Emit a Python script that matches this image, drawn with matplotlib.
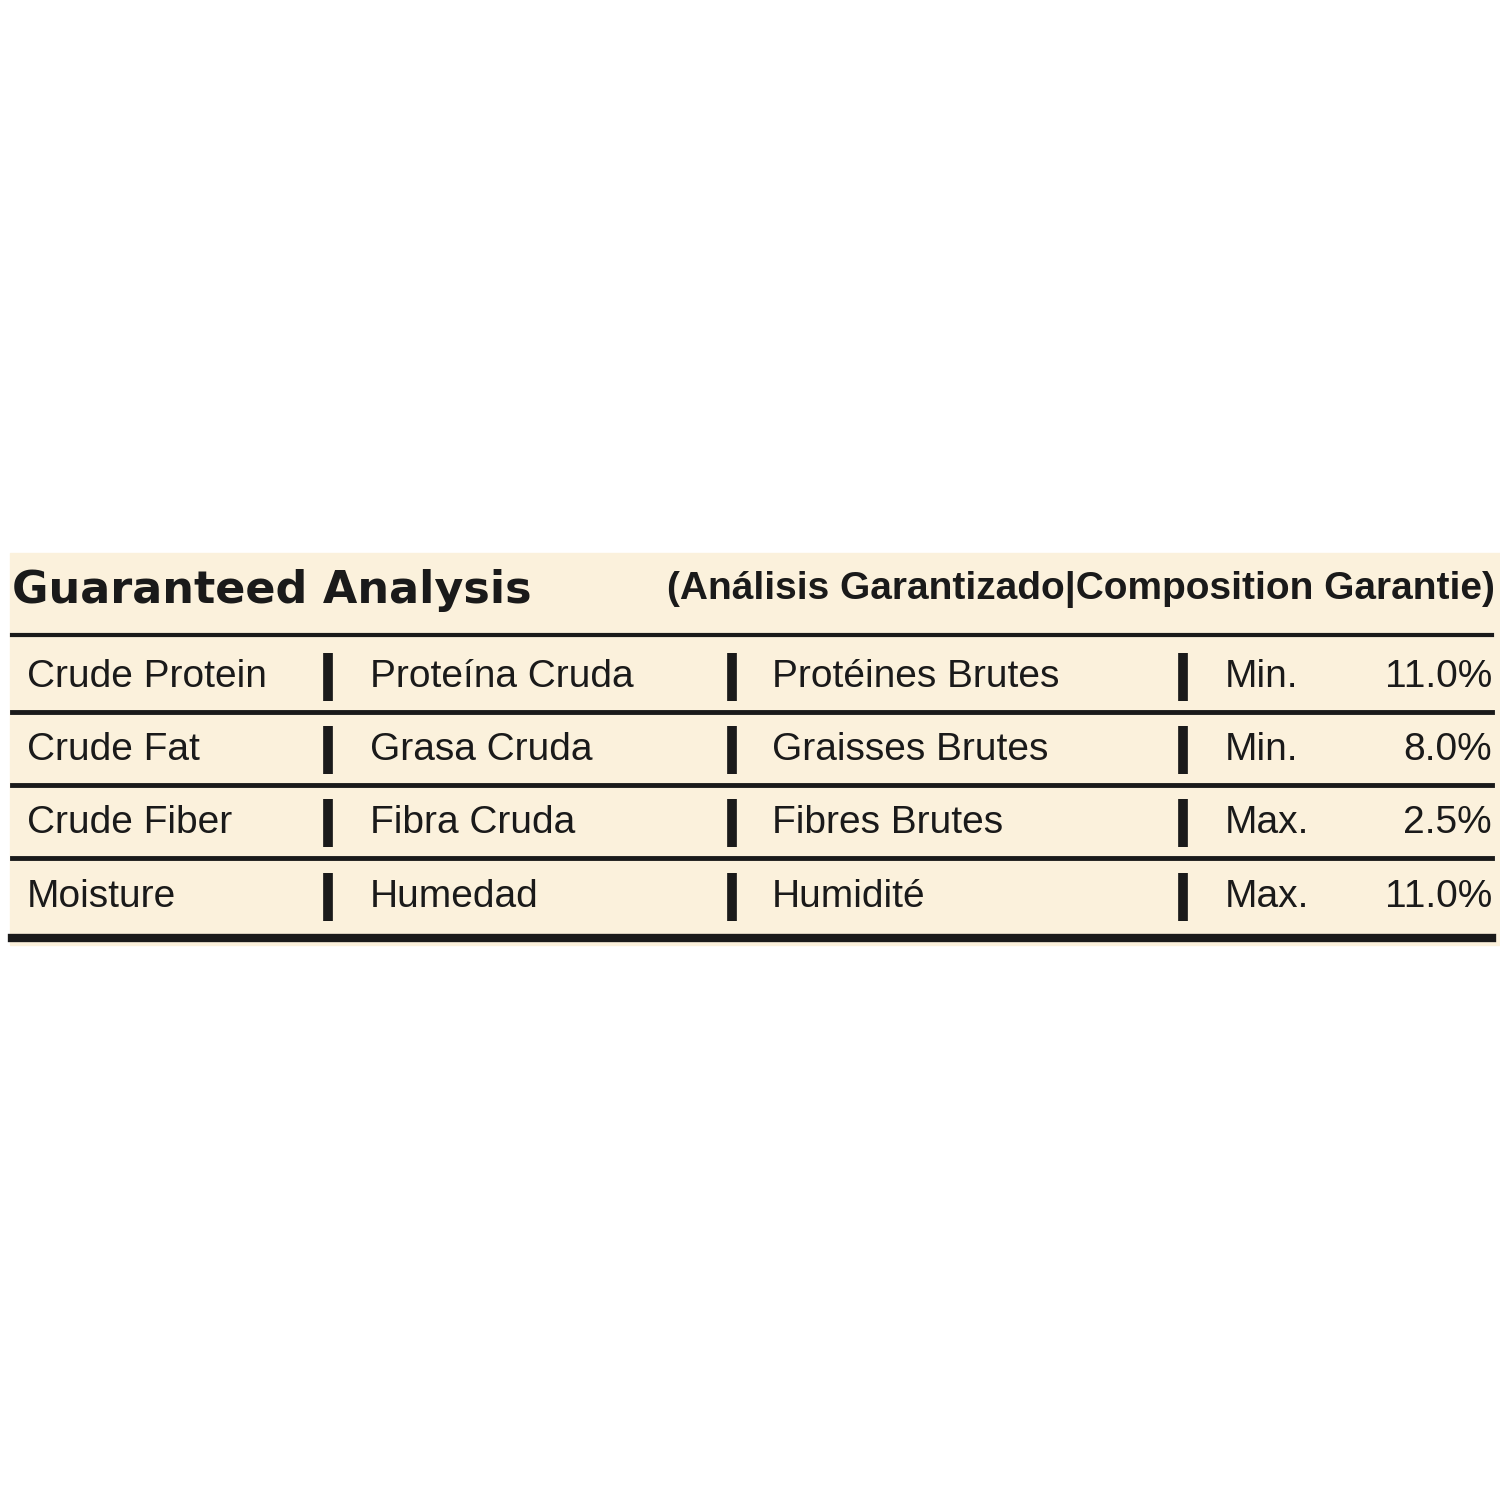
import matplotlib
matplotlib.use("Agg")
import matplotlib.pyplot as plt
from matplotlib.patches import Rectangle

title_main = "Guaranteed Analysis"
title_sub = "(Análisis Garantizado|Composition Garantie)"
english = ["Crude Protein", "Crude Fat", "Crude Fiber", "Moisture"]
spanish = ["Proteína Cruda", "Grasa Cruda", "Fibra Cruda", "Humedad"]
french = ["Protéines Brutes", "Graisses Brutes", "Fibres Brutes", "Humidité"]
qualifier = ["Min.", "Min.", "Max.", "Max."]
values = ["11.0%", "8.0%", "2.5%", "11.0%"]

fam = ['Liberation Sans', 'DejaVu Sans']
fig = plt.figure(figsize=(15, 15), dpi=100)
ax = fig.add_axes([0, 0, 1, 1])
ax.set_xlim(0, 1500); ax.set_ylim(1500, 0); ax.axis('off')
ink = '#1a1a1a'
ax.add_patch(Rectangle((10, 553), 1490, 392, color='#fbf1dc', zorder=0))
ax.text(12, 590, title_main, fontsize=32, fontweight='bold', family=['DejaVu Sans'], va='center', color=ink)
ax.text(1495, 590, title_sub, fontsize=28, fontweight='bold', family=fam, va='center', ha='right', color=ink)
ax.plot([12, 1492], [635, 635], color=ink, lw=3)
rows_y = [677, 750, 823, 897]
lines_y = [712, 785, 858, 938]
fs = 28
for i, y in enumerate(rows_y):
    ax.text(27, y, english[i], fontsize=fs, family=fam, va='center', color=ink)
    ax.text(370, y, spanish[i], fontsize=fs, family=fam, va='center', color=ink)
    ax.text(772, y, french[i], fontsize=fs, family=fam, va='center', color=ink)
    ax.text(1225, y, qualifier[i], fontsize=fs, family=fam, va='center', color=ink)
    ax.text(1492, y, values[i], fontsize=fs, family=fam, va='center', ha='right', color=ink)
    for x in [328, 732, 1183]:
        ax.plot([x, x], [y - 24, y + 24], color=ink, lw=7, solid_capstyle='butt')
    ax.plot([12, 1492], [lines_y[i], lines_y[i]], color=ink, lw=3.5 if i < 3 else 6)
fig.savefig("out.png", dpi=100, facecolor='white')
